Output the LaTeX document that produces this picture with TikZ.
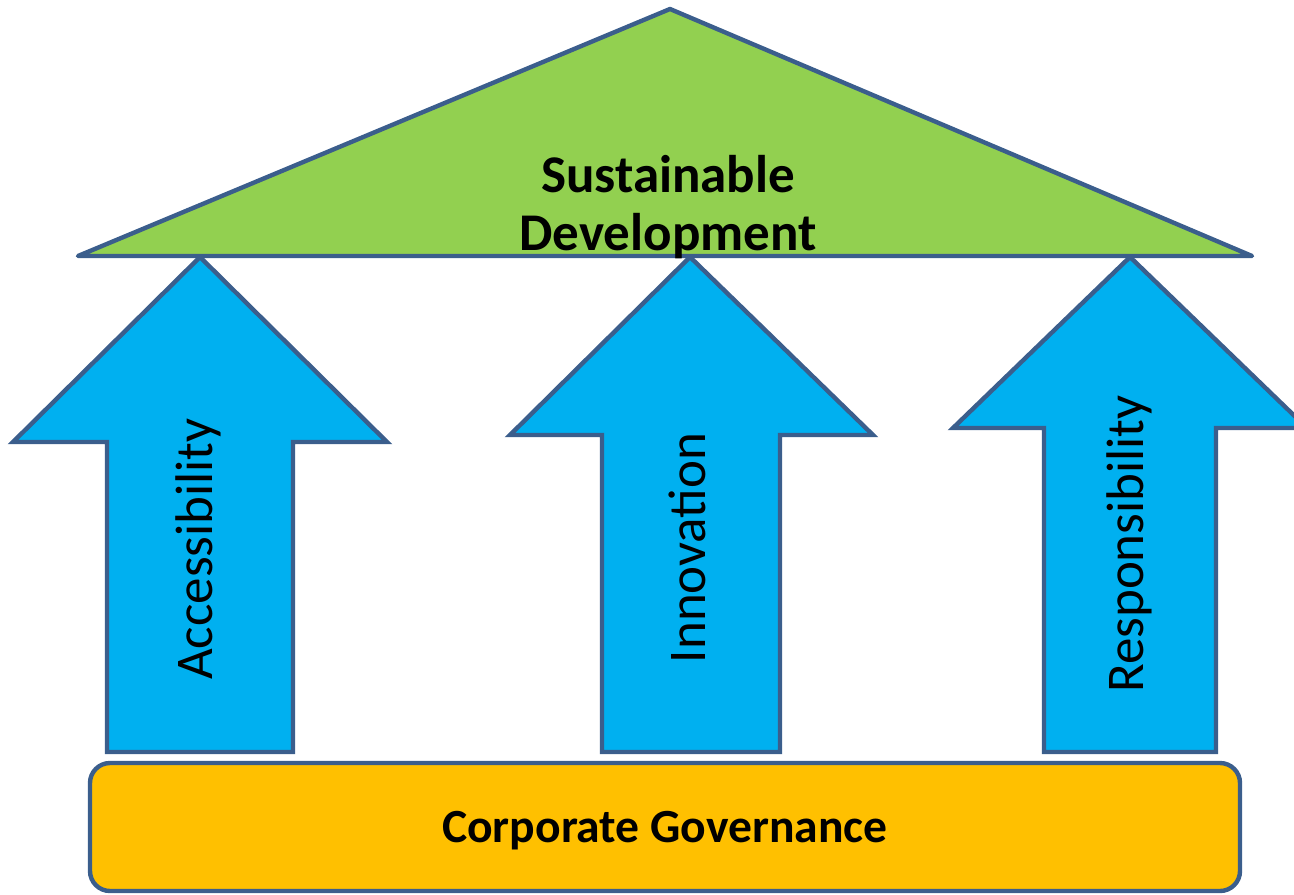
\documentclass[tikz,border=0pt]{standalone}
\usepackage{fontspec}
\setmainfont{Carlito}
\definecolor{edgeblue}{HTML}{3B5E8C}
\definecolor{pillarblue}{HTML}{00B0F0}
\definecolor{roofgreen}{HTML}{92D050}
\definecolor{basegold}{HTML}{FFC000}
\tikzset{
  pillar/.style={edgeblue,line width=2.2pt,fill=pillarblue},
  roof/.style={edgeblue,line width=2.2pt,fill=roofgreen,line join=round},
  pillarlabel/.style={rotate=90,anchor=base,inner sep=0pt,font=\fontsize{26.5}{32}\selectfont},
  govbox/.style={draw=edgeblue,line width=2.2pt,fill=basegold,rounded corners=10pt,text depth=0pt,
    minimum width=575pt,minimum height=64pt,font=\bfseries\fontsize{23.8}{28}\selectfont}
}
\begin{document}
\begin{tikzpicture}[x=0.5pt,y=-0.5pt]
\useasboundingbox (0,0) rectangle (1294,894);
\clip (0,0) rectangle (1294,894);
% pillars
\foreach \tip/\hl/\hr/\hy/\sl/\sr in {200/13/387/442/107/293,690/510/873/435/602/780,1130/953/1307/428/1044/1216}{
\draw[pillar] (\tip,257) -- (\hr,\hy) -- (\sr,\hy) -- (\sr,752) -- (\sl,752) -- (\sl,\hy) -- (\hl,\hy) -- cycle;
}
% roof
\draw[roof] (670,9) -- (1252,256) -- (78,256) -- cycle;
\node[align=center,font=\bfseries\fontsize{26.5}{29}\selectfont] (sd) at (668,207) {Sustainable\\Development};

\node[pillarlabel] (acc) at (212,549) {Accessibility};
\node[pillarlabel] (inn) at (705,548) {Innovation};
\node[pillarlabel] (res) at (1143,544) {Responsibility};

\node[govbox] (gov) at (665,827) {Corporate Governance};
\end{tikzpicture}
\end{document}
